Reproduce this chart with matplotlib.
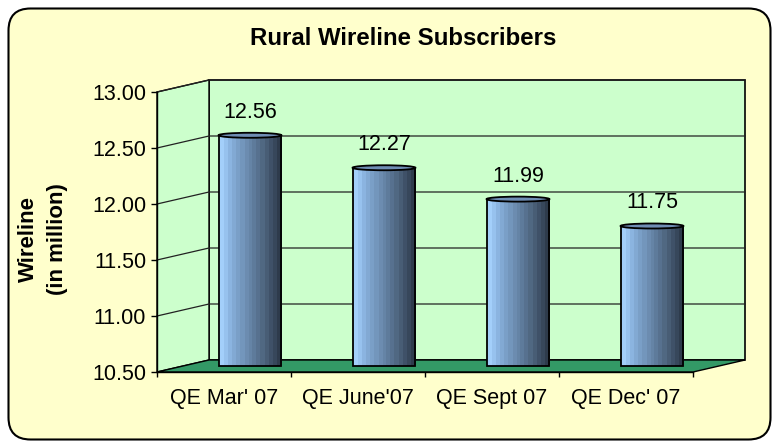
import matplotlib
matplotlib.use('Agg')
import matplotlib.pyplot as plt
import numpy as np
from matplotlib.patches import Polygon, Ellipse, FancyBboxPatch
from matplotlib.colors import ListedColormap

# ---- data ----
categories = ["QE Mar' 07", "QE June'07", "QE Sept 07", "QE Dec' 07"]
values = [12.56, 12.27, 11.99, 11.75]
yticks = [10.50, 11.00, 11.50, 12.00, 12.50, 13.00]
title = "Rural Wireline Subscribers"
ylabel = "Wireline\n(in million)"

plt.rcParams['font.family'] = ['Liberation Sans', 'DejaVu Sans']

W, H = 774, 442
fig = plt.figure(figsize=(W / 100, H / 100), dpi=100)

# background rounded panel
bg = fig.add_axes([0, 0, 1, 1])
bg.set_xlim(0, W)
bg.set_ylim(H, 0)
bg.axis('off')
bg.add_patch(FancyBboxPatch((8.5, 8.5), 762, 431,
                            boxstyle='round,pad=0,rounding_size=22',
                            fc='#FFFFCC', ec='black', lw=1.5))

# ---- pseudo-3D plot area ----
n = len(categories)
ymin, ymax = yticks[0], yticks[-1]
DX = 52 / 134.0          # depth offset (category units)
DY = 12 * 0.5 / 56.0     # depth offset (value units)
EH = 5 * 0.5 / 56.0      # ellipse height of cylinder caps
x0, x1 = -0.5, n - 0.5

ax = fig.add_axes([157 / W, (H - 372) / H, 588 / W, 292 / H])
ax.patch.set_alpha(0)

wall_c = '#CCFFCC'
back = Polygon([(x0 + DX, ymin + DY), (x1 + DX, ymin + DY),
                (x1 + DX, ymax + DY), (x0 + DX, ymax + DY)],
               closed=True, fc=wall_c, ec='black', lw=1.2, zorder=1, clip_on=False)
side = Polygon([(x0, ymin), (x0 + DX, ymin + DY), (x0 + DX, ymax + DY), (x0, ymax)],
               closed=True, fc=wall_c, ec='black', lw=1.0, zorder=1, clip_on=False)
floor = Polygon([(x0, ymin), (x1, ymin), (x1 + DX, ymin + DY), (x0 + DX, ymin + DY)],
                closed=True, fc='#339966', ec='black', lw=1.0, zorder=2, clip_on=False)
ax.add_patch(back)
ax.add_patch(side)
for t in yticks[1:]:
    ax.plot([x0, x0 + DX, x1 + DX], [t, t + DY, t + DY], color='#222222',
            lw=0.9, zorder=1.5, clip_on=False)
ax.add_patch(floor)

# bars (cylinders), placed at mid-depth
stripes = ['#A3CFFA', '#97C2EE', '#8BB4E0', '#82A9D3', '#7A9FC7', '#7396BC',
           '#6C8CB0', '#6584A6', '#5E7B9B', '#57718F', '#506882', '#485D75',
           '#3F5168', '#37475B', '#2E3B4C']
cmap = ListedColormap(stripes)
xs = np.arange(n) + DX / 2
base = ymin + DY / 2
bw = 0.47
heights = np.array(values) - ymin
bars = ax.bar(xs, heights, bottom=base, width=bw, color='none',
              edgecolor='black', lw=1.3, zorder=4)
for b, v, xc in zip(bars, values, xs):
    x, y = b.get_x(), b.get_y()
    w, h = b.get_width(), b.get_height()
    im = ax.imshow(np.linspace(0, 1, 64).reshape(1, -1), cmap=cmap, aspect='auto',
                   extent=[x, x + w, y, y + h], zorder=3, interpolation='nearest')
    im.set_clip_path(b)
    ax.add_patch(Ellipse((xc, y + h), w, EH, fc='#6F8DB4', ec='black', lw=1.3, zorder=5))
    ax.annotate(f'{v:.2f}', (xc, y + h + EH / 2), xytext=(0, 10.8),
                textcoords='offset points', ha='center', va='baseline', fontsize=15.5)

ax.set_xlim(x0, x1 + DX)
ax.set_ylim(ymin, ymax + DY)

# axes / ticks
ax.spines['top'].set_visible(False)
ax.spines['right'].set_visible(False)
ax.spines['left'].set_bounds(ymin, ymax)
ax.spines['bottom'].set_bounds(x0, x1)
for s in ('left', 'bottom'):
    ax.spines[s].set_linewidth(1.0)
    ax.spines[s].set_zorder(6)
ax.set_yticks(yticks)
ax.set_yticklabels([f'{t:.2f}' for t in yticks])
ax.tick_params(axis='y', length=4.3, width=1, pad=3.6, labelsize=15.5)
ax.set_xticks(range(n))
ax.set_xticklabels(categories)
ax.set_xticks(np.arange(n + 1) - 0.5, minor=True)
ax.tick_params(axis='x', which='major', length=0, pad=11.5, labelsize=15.5)
ax.tick_params(axis='x', which='minor', length=3.6, width=1)

fig.text(403 / W, 1 - 45 / H, title, ha='center', va='baseline',
         fontsize=17.3, fontweight='bold')
fig.text(43 / W, 1 - 239 / H, ylabel, rotation=90, ha='center', va='center',
         fontsize=16, fontweight='bold', linespacing=1.45, multialignment='center')

fig.savefig('out.png', dpi=100)
